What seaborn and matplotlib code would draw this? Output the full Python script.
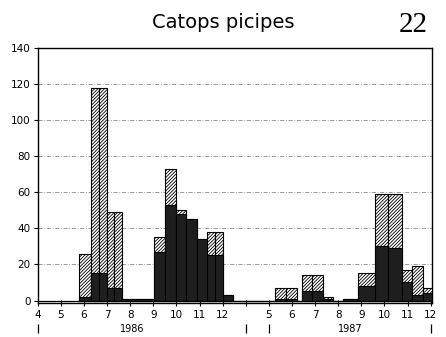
import numpy as np
import pandas as pd
import matplotlib
matplotlib.use("Agg")
import matplotlib.pyplot as plt
import matplotlib.transforms as mtransforms
import seaborn as sns

# Sampling-interval edges in month units (0 = April 1986, 10 = May 1987)
edges_1986 = [1.80, 2.30, 2.64, 2.98, 3.32, 3.66, 5.03, 5.50, 5.97, 6.42,
              6.88, 7.31, 7.67, 8.03, 8.47]
edges_1987 = [10.26, 10.73, 11.20, 11.42, 11.86, 12.33, 12.79, 13.22, 13.87,
              14.59, 15.16, 15.74, 16.18, 16.65, 17.04]
# totals (black + hatched) and black portion per interval
total_1986 = [26, 118, 118, 49, 49, 1, 35, 73, 50, 45, 34, 38, 38, 3]
black_1986 = [2, 15, 15, 7, 7, 1, 27, 53, 48, 45, 34, 25, 25, 3]
gap_total = [0]
gap_black = [0]
total_1987 = [7, 7, 0, 14, 14, 2, 0, 1, 15, 59, 59, 17, 19, 7]
black_1987 = [1, 1, 0, 5, 5, 1, 0, 1, 8, 30, 29, 10, 3, 4]

tick_pos = list(range(0, 18))
tick_labels = ['4', '5', '6', '7', '8', '9', '10', '11', '12', '',
               '5', '6', '7', '8', '9', '10', '11', '12']
year_labels = ['1986', '1987']
year_pos = [4.07, 13.5]
year_marks = [0, 9, 10, 17]
yticks = [0, 20, 40, 60, 80, 100, 120, 140]

edges = edges_1986 + edges_1987
e = np.array(edges)
df = pd.DataFrame({
    'center': (e[:-1] + e[1:]) / 2,
    'total': np.array(total_1986 + gap_total + total_1987, dtype=float),
    'black': np.array(black_1986 + gap_black + black_1987, dtype=float),
})

sns.set_theme(style="white")
plt.rcParams['font.family'] = ['DejaVu Sans']
plt.rcParams['hatch.linewidth'] = 0.6
plt.rcParams['hatch.color'] = 'black'

fig = plt.figure(figsize=(4.46, 3.37), dpi=100)
ax = fig.add_axes([0.0845, 1 - 302.7 / 337, 0.8848, 254.6 / 337])

sns.histplot(data=df, x='center', weights='total', bins=edges, stat='count',
             element='bars', fill=True, color='white', edgecolor='black',
             linewidth=0.8, hatch='//////////', alpha=1, ax=ax, zorder=3)
sns.histplot(data=df, x='center', weights='black', bins=edges, stat='count',
             element='bars', fill=True, color='#1e1e1e', edgecolor='black',
             linewidth=0.8, alpha=1, ax=ax, zorder=4)

ax.set_xlim(0, 17.07)
ax.set_ylim(-1.22, 140)
ax.set_ylabel('')
ax.set_xlabel('')

ax.set_yticks(yticks)
ax.set_yticklabels([str(v) for v in yticks])
ax.set_xticks(tick_pos)
ax.set_xticklabels(tick_labels)

ax.tick_params(axis='y', direction='out', length=3, width=0.8, colors='black',
               labelsize=7.5, pad=2, left=True)
ax.tick_params(axis='x', direction='inout', length=4.5, width=0.8,
               colors='black', labelsize=7.5, pad=3.2, bottom=True)

for s in ax.spines.values():
    s.set_color('black')
    s.set_linewidth(1.0)

ax.grid(axis='y', linestyle=(0, (5, 2, 1, 2)), color='#8a8a8a', linewidth=0.6,
        zorder=0)
ax.grid(axis='x', visible=False)
ax.axhline(0, color='black', linewidth=0.9, zorder=5)

trans = mtransforms.blended_transform_factory(ax.transData, ax.transAxes)
for lab, xp in zip(year_labels, year_pos):
    ax.text(xp, -0.1033, lab, transform=trans, ha='center', va='center',
            fontsize=7, color='black')
ax.vlines(year_marks, -0.0848, -0.1202, transform=trans, colors='black',
          linewidth=0.9, clip_on=False)

fig.text(223 / 446, 1 - 28.3 / 337, 'Catops picipes', ha='center',
         va='baseline', fontsize=14, family='DejaVu Sans', color='black')
fig.text(413 / 446, 1 - 32.3 / 337, '22', ha='center', va='baseline',
         fontsize=21, family='Liberation Serif', color='black')

fig.savefig('out.png', dpi=100)
